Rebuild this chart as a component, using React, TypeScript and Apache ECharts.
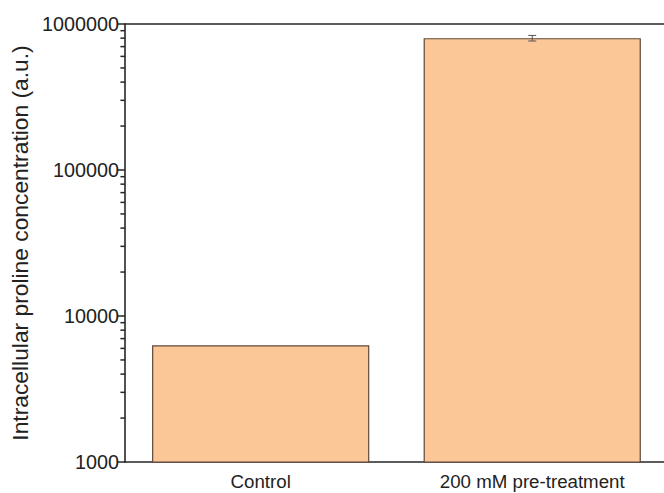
import React, { useEffect, useRef } from "react";
import * as echarts from "echarts";

const categories = ["Control", "200 mM pre-treatment"];
const values = [6300, 800000];
const errLow = [null, 765000];
const errHigh = [null, 835000];
const majorTicks = [1000, 10000, 100000, 1000000];
const minorTickValues = [
  2000, 3000, 4000, 5000, 6000, 7000, 8000, 9000,
  20000, 30000, 40000, 50000, 60000, 70000, 80000, 90000,
  200000, 300000, 400000, 500000, 600000, 700000, 800000, 900000,
];
const yName = "Intracellular proline concentration (a.u.)";

const FONT = "'Liberation Sans', Arial, Helvetica, sans-serif";
const AXIS_COLOR = "#262626";

export default function App() {
  const ref = useRef<HTMLDivElement>(null);
  useEffect(() => {
    if (!ref.current) return;
    const chart = echarts.init(ref.current, null, { renderer: "svg" });
    const errData = values
      .map((v, i) => (errLow[i] != null ? [i, errLow[i], errHigh[i]] : null))
      .filter((d) => d !== null);
    chart.setOption({
      animation: false,
      backgroundColor: "#ffffff",
      textStyle: { fontFamily: FONT },
      grid: {
        left: 123,
        top: 24,
        width: 545,
        bottom: 31,
        show: false,
      },
      xAxis: [
        {
          type: "category",
          data: categories,
          axisLine: { lineStyle: { color: AXIS_COLOR, width: 1.6 } },
          axisTick: { alignWithLabel: true, length: 6, lineStyle: { color: AXIS_COLOR, width: 1.5 } },
          axisLabel: { fontSize: 18.7, color: "#222", margin: 10, fontFamily: FONT },
          splitLine: { show: false },
        },
        {
          type: "category",
          data: categories,
          position: "bottom",
          axisLine: { show: false },
          axisTick: { length: 3, lineStyle: { color: AXIS_COLOR, width: 1.5 } },
          axisLabel: { show: false },
          splitLine: { show: false },
        },
        {
          type: "category",
          data: categories,
          position: "top",
          axisLine: { show: true, lineStyle: { color: AXIS_COLOR, width: 1.6 } },
          axisTick: { show: false },
          axisLabel: { show: false },
          splitLine: { show: false },
        },
      ],
      yAxis: {
        type: "log",
        logBase: 10,
        min: majorTicks[0],
        max: majorTicks[majorTicks.length - 1],
        splitNumber: 3,
        name: yName,
        nameLocation: "middle",
        nameGap: 88,
        nameTextStyle: { fontSize: 22.8, color: "#222", fontFamily: FONT },
        axisLine: { show: true, lineStyle: { color: AXIS_COLOR, width: 1.6 } },
        axisTick: { show: true, length: 8, lineStyle: { color: AXIS_COLOR, width: 1.5 } },
        axisLabel: {
          fontSize: 19.8,
          color: "#222",
          margin: 6,
          fontFamily: FONT,
          formatter: (v: number) => String(Math.round(v)),
        },
        splitLine: { show: false },
        minorTick: { show: false },
      },
      series: [
        {
          type: "bar",
          data: values,
          barWidth: "80%",
          itemStyle: { color: "#FCC796", borderColor: "#5e4838", borderWidth: 1.2 },
        },
        {
          type: "custom",
          clip: false,
          silent: true,
          data: minorTickValues.map((v) => [0, v]),
          renderItem: (params: any, api: any) => {
            const p = api.coord([0, api.value(1)]);
            const x = params.coordSys.x;
            return {
              type: "line",
              shape: { x1: x - 4.5, y1: p[1], x2: x, y2: p[1] },
              style: { stroke: AXIS_COLOR, lineWidth: 1.5 },
            };
          },
          z: 5,
        },
        {
          type: "custom",
          clip: false,
          silent: true,
          data: errData,
          renderItem: (params: any, api: any) => {
            const lo = api.coord([api.value(0), api.value(1)]);
            const hi = api.coord([api.value(0), api.value(2)]);
            const x = lo[0];
            const w = 4;
            const style = { stroke: "#555", lineWidth: 1 };
            return {
              type: "group",
              children: [
                { type: "line", shape: { x1: x, y1: lo[1], x2: x, y2: hi[1] }, style },
                { type: "line", shape: { x1: x - w, y1: lo[1], x2: x + w, y2: lo[1] }, style },
                { type: "line", shape: { x1: x - w, y1: hi[1], x2: x + w, y2: hi[1] }, style },
              ],
            };
          },
          z: 6,
        },
      ],
    });
    return () => chart.dispose();
  }, []);
  return (
    <div style={{ width: 664, height: 493, position: "absolute", left: 0, top: 0, overflow: "hidden" }}>
      <div ref={ref} style={{ width: 720, height: 493 }} />
    </div>
  );
}
